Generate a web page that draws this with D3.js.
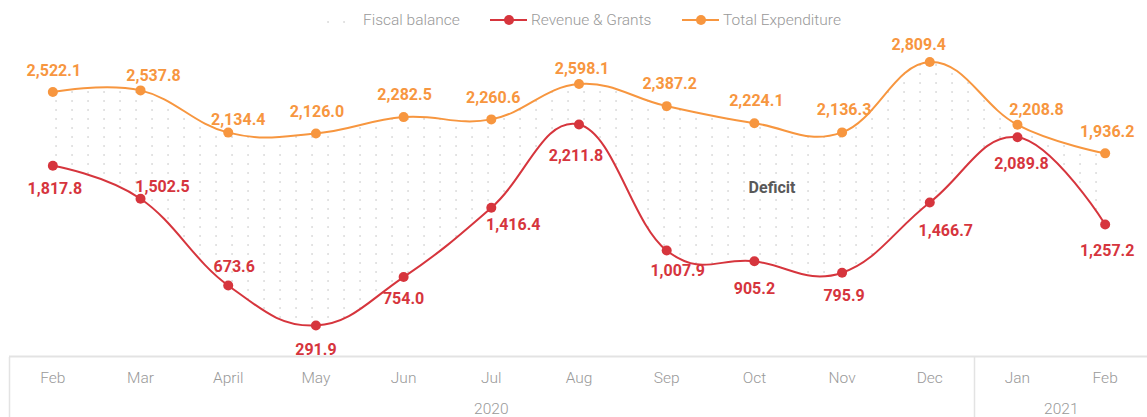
<html>
    <head>
        <title>Fiscal balance</title>
        <script src="https://d3js.org/d3.v7.min.js"></script>
        <style>
            body { margin: 0; background: #fff; }
            text { font-family: Roboto, "Noto Sans", sans-serif; }
        </style>
    </head>

    <body>
        <div id='chart'></div>
        <script>
            var width = 1147;
            var height = 417;

            // data (US$ million)
            var months = ["Feb", "Mar", "April", "May", "Jun", "Jul", "Aug", "Sep", "Oct", "Nov", "Dec", "Jan", "Feb"];
            var revenue = [1817.8, 1502.5, 673.6, 291.9, 754.0, 1416.4, 2211.8, 1007.9, 905.2, 795.9, 1466.7, 2089.8, 1257.2];
            var expenditure = [2522.1, 2537.8, 2134.4, 2126.0, 2282.5, 2260.6, 2598.1, 2387.2, 2224.1, 2136.3, 2809.4, 2208.8, 1936.2];
            var years = ["2020", "2021"];
            var yearStart = [0, 11];

            var revColor = "#d6353d";
            var expColor = "#f7963f";

            // label nudges so they sit off the lines like the original
            var expDx = [1, 13, 10, 1, 1, 2, 3, 3, 2, 2, -11, 19, 2];
            var expDy = [-22, -15, -13, -22, -23, -22, -16, -23, -23, -23, -18, -15, -22];
            var revDx = [2, 22, 6, 0, 0, 22, -3, 11, 0, 2, 16, 4, 2];
            var revDy = [23, -12, -19, 24, 21, 17, 31, 20, 27, 23, 28, 26, 26];

            var svg = d3.select('#chart')
                .append('svg')
                .attr('width', width)
                .attr('height', height);

            var x = d3.scaleBand()
                .domain(d3.range(months.length))
                .range([9, 1149]);
            var cx = i => x(i) + x.bandwidth() / 2;

            var y = d3.scaleLinear()
                .domain([0, 3000])
                .range([356, 42]);

            var fmt = d3.format(",.1f");

            // dotted fill for the deficit band
            var pat = svg.append("defs").append("pattern")
                .attr("id", "dots")
                .attr("patternUnits", "userSpaceOnUse")
                .attr("width", 16)
                .attr("height", 9);
            pat.append("rect")
                .attr("x", 7.4)
                .attr("y", 1)
                .attr("width", 1.3)
                .attr("height", 2)
                .attr("fill", "#d6d6d6");

            var curve = d3.curveCardinal.tension(-0.2);

            var area = d3.area()
                .x((d, i) => cx(i))
                .y0((d, i) => y(revenue[i]))
                .y1((d, i) => y(expenditure[i]))
                .curve(curve);

            svg.append("path")
                .datum(months)
                .attr("d", area)
                .attr("fill", "url(#dots)");

            svg.append("text")
                .attr("x", 772)
                .attr("y", 187)
                .attr("dy", "0.35em")
                .attr("text-anchor", "middle")
                .attr("font-size", 16)
                .attr("font-weight", "bold")
                .attr("fill", "#595959")
                .text("Deficit");

            // x axis box
            var xAxis = g => g
                .attr("transform", `translate(0,356)`)
                .call(d3.axisBottom(x).tickSize(0).tickPadding(16).tickFormat(i => months[i]))
                .call(g => g.select(".domain").remove())
                .call(g => g.selectAll("text")
                    .attr("font-family", "Roboto, sans-serif")
                    .attr("font-size", 15.5)
                    .attr("font-weight", 300)
                    .attr("fill", "#999"));

            svg.append("g").call(xAxis);

            svg.append("line")
                .attr("x1", 9).attr("x2", width)
                .attr("y1", 356.5).attr("y2", 356.5)
                .attr("stroke", "#e3e3e3")
                .attr("stroke-width", 2);

            svg.selectAll(".sep")
                .data(yearStart)
                .enter()
                .append("line")
                .attr("class", "sep")
                .attr("x1", d => Math.round(x(d)) + 0.5)
                .attr("x2", d => Math.round(x(d)) + 0.5)
                .attr("y1", 357)
                .attr("y2", height)
                .attr("stroke", "#e3e3e3")
                .attr("stroke-width", 1.5);

            svg.selectAll(".year")
                .data(years)
                .enter()
                .append("text")
                .attr("class", "year")
                .attr("x", (d, i) => {
                    var a = x(yearStart[i]);
                    var b = i + 1 < years.length ? x(yearStart[i + 1]) : x.range()[1];
                    return (a + b) / 2;
                })
                .attr("y", 409)
                .attr("dy", "0.35em")
                .attr("text-anchor", "middle")
                .attr("font-size", 15.5)
                .attr("font-weight", 300)
                .attr("fill", "#999")
                .text(d => d);

            // the two series
            function drawSeries(values, color, dxs, dys) {
                var line = d3.line()
                    .x((d, i) => cx(i))
                    .y(d => y(d))
                    .curve(curve);

                svg.append("path")
                    .datum(values)
                    .attr("d", line)
                    .attr("fill", "none")
                    .attr("stroke", color)
                    .attr("stroke-width", 2);

                svg.append("g")
                    .selectAll("circle")
                    .data(values)
                    .enter()
                    .append("circle")
                    .attr("cx", (d, i) => cx(i))
                    .attr("cy", d => y(d))
                    .attr("r", 5)
                    .attr("fill", color);

                svg.append("g")
                    .selectAll("text")
                    .data(values)
                    .enter()
                    .append("text")
                    .attr("x", (d, i) => cx(i) + dxs[i])
                    .attr("y", (d, i) => y(d) + dys[i])
                    .attr("dy", "0.35em")
                    .attr("text-anchor", "middle")
                    .attr("font-size", 16)
                    .attr("font-weight", "bold")
                    .attr("fill", color)
                    .text(d => fmt(d));
            }

            drawSeries(expenditure, expColor, expDx, expDy);
            drawSeries(revenue, revColor, revDx, revDy);

            // legend
            var legend = svg.append("g").attr("transform", "translate(0,20)");

            legend.append("rect")
                .attr("x", 327).attr("y", -6)
                .attr("width", 27).attr("height", 12)
                .attr("fill", "url(#dots)");

            var items = [
                {name: "Fiscal balance", x: 363, color: null},
                {name: "Revenue & Grants", x: 490, color: revColor},
                {name: "Total Expenditure", x: 682, color: expColor}
            ];

            items.forEach(function(it) {
                var tx = it.x;
                if (it.color) {
                    legend.append("line")
                        .attr("x1", it.x).attr("x2", it.x + 37)
                        .attr("stroke", it.color)
                        .attr("stroke-width", 2);
                    legend.append("circle")
                        .attr("cx", it.x + 19)
                        .attr("r", 5)
                        .attr("fill", it.color);
                    tx = it.x + 41;
                }
                legend.append("text")
                    .attr("x", tx)
                    .attr("dy", "0.35em")
                    .attr("font-size", 15.5)
                    .attr("font-weight", 300)
                    .attr("fill", "#999")
                    .text(it.name);
            });
        </script>
    </body>
</html>
